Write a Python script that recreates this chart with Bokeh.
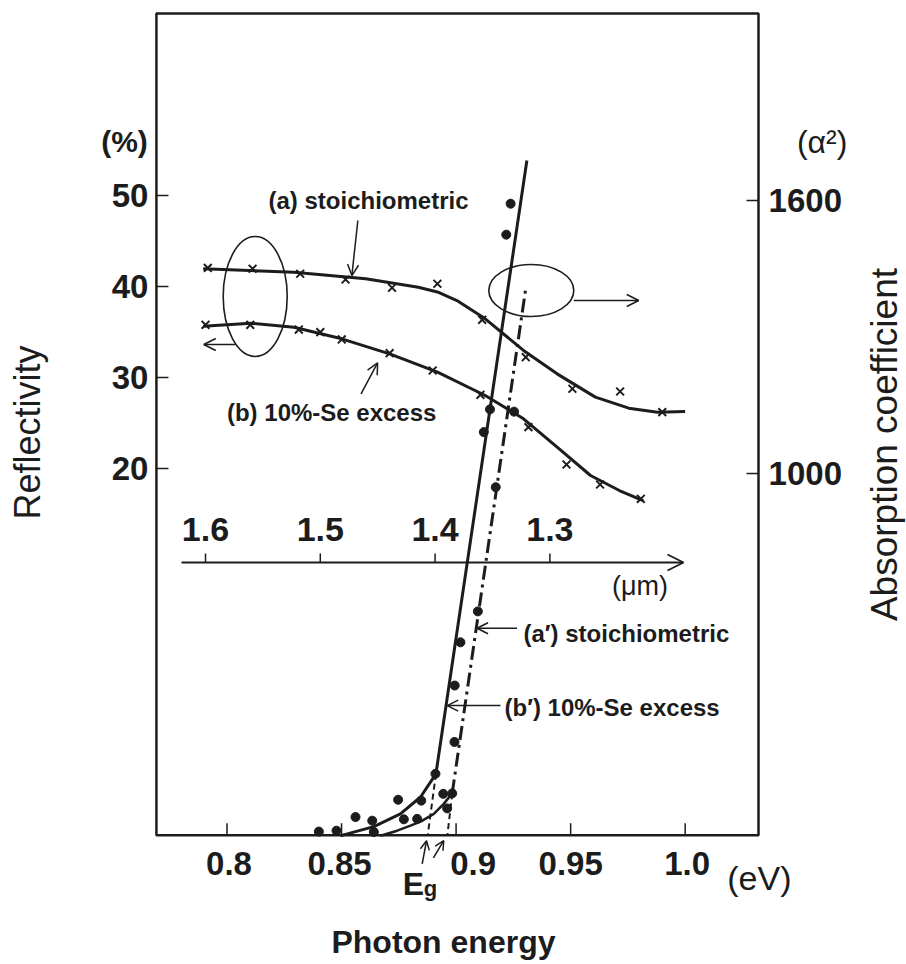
import numpy as np
from bokeh.plotting import figure
from bokeh.models import Range1d, Arrow, OpenHead
from bokeh.embed import file_html
from bokeh.resources import INLINE
from bokeh.core.properties import value

# ---------------- data ----------------
# Reflectivity (%) vs wavelength (um)
wl_a = [1.598, 1.559, 1.5175, 1.478, 1.4375, 1.398, 1.359, 1.321, 1.2804, 1.2388, 1.2021]
refl_a = [42.05, 41.95, 41.4, 40.77, 39.86, 40.3, 36.34, 32.23, 28.76, 28.46, 26.19]
wl_a_fit = [1.602, 1.523, 1.4605, 1.4146, 1.398, 1.381, 1.3563, 1.323, 1.2937, 1.2604, 1.2313, 1.2063, 1.1822]
refl_a_fit = [41.95, 41.57, 40.85, 39.92, 39.4, 38.46, 36.45, 32.97, 30.4, 27.84, 26.63, 26.19, 26.26]

wl_b = [1.6, 1.561, 1.5187, 1.5, 1.4813, 1.4396, 1.4021, 1.3605, 1.3187, 1.2855, 1.2563, 1.2208]
refl_b = [35.79, 35.79, 35.27, 34.98, 34.18, 32.67, 30.77, 28.1, 24.54, 20.44, 18.24, 16.67]
wl_b_fit = [1.602, 1.5605, 1.523, 1.4813, 1.4396, 1.3979, 1.3563, 1.323, 1.2937, 1.2646, 1.2395, 1.2188]
refl_b_fit = [35.64, 35.97, 35.53, 34.25, 32.6, 30.58, 28.02, 25.46, 22.34, 19.23, 17.58, 16.48]

# Absorption coefficient (alpha^2) vs photon energy (eV)
e_a_pts = [0.9253, 0.9173, 0.9095, 0.8993, 0.8983, 0.8961, 0.8944, 0.8830, 0.8772, 0.8641]
alpha_a_pts = [1136, 970, 697, 410, 297, 264, 296, 241, 240, 212]
e_b_pts = [0.9238, 0.9219, 0.9148, 0.9121, 0.9019, 0.8994, 0.8910, 0.8848, 0.8747, 0.8634, 0.8561, 0.8478, 0.8401]
alpha_b_pts = [1593, 1525, 1141, 1091, 629, 534, 340, 281, 283, 237, 245, 215, 213]

e_a_line = [0.8983, 0.9305]
alpha_a_line = [297, 1410]
e_a_tail = [0.8670, 0.8743, 0.8801, 0.8845, 0.8903, 0.8946, 0.8983]
alpha_a_tail = [204, 215, 226, 235, 252, 274, 297]
e_b_fit = [0.8495, 0.8525, 0.8641, 0.8757, 0.8845, 0.8912, 0.9309]
alpha_b_fit = [204, 208, 224, 252, 289, 340, 1688]
eg_b, eg_a = 0.8876, 0.8962

# ticks
energy_ticks = [0.8, 0.85, 0.9, 0.95, 1.0]
energy_tick_labels = ["0.8", "0.85", "0.9", "0.95", "1.0"]
refl_ticks = [20, 30, 40, 50]
refl_tick_labels = ["20", "30", "40", "50"]
alpha_ticks = [1000, 1600]
alpha_tick_labels = ["1000", "1600"]
wl_ticks = [1.6, 1.5, 1.4, 1.3]
wl_tick_labels = ["1.6", "1.5", "1.4", "1.3"]

# ---------------- figure ----------------
FONT = value("Liberation Sans")
INK = "#1c1c1c"

# plot box (data limits of the framed area)
E0, E1 = 0.7692, 1.0320      # photon energy
R0, R1 = -20.3, 70.0         # reflectivity
A0, A1 = 204.4, 2011.0       # alpha^2

p = figure(width=906, height=964, output_backend="svg", toolbar_location=None,
           x_axis_location=None, y_axis_location=None, min_border=0,
           x_range=Range1d(0.70114, 1.09660), y_range=Range1d(-34.51, 71.43))
p.extra_x_ranges = {"wl": Range1d(1.77857, 0.98937)}
p.extra_y_ranges = {"alpha": Range1d(-79.1, 2039.6)}
p.outline_line_color = None
p.background_fill_color = "white"
p.border_fill_color = "white"
p.grid.visible = False

TE = 12 / 2291.0    # tick length in eV
TR = 12 / 9.1       # tick length in %

# frame
p.quad(left=[E0], right=[E1], bottom=[R0], top=[R1], fill_color=None,
       line_color=INK, line_width=2.5)

# left axis (reflectivity)
p.segment(x0=[E0] * len(refl_ticks), y0=refl_ticks, x1=[E0 + TE] * len(refl_ticks), y1=refl_ticks,
          line_color=INK, line_width=1.5)
p.text(x=[E0 - 0.0035] * len(refl_ticks), y=refl_ticks, text=refl_tick_labels,
       text_align="right", text_baseline="middle", text_font=FONT, text_font_style="bold",
       text_font_size="33px", text_color=INK)
p.text(x=[0.75526], y=[55.93], text=["(%)"], text_align="center", text_baseline="middle",
       text_font=FONT, text_font_style="bold", text_font_size="30px", text_color=INK)
p.text(x=[0.71293], y=[23.96], text=["Reflectivity"], angle=np.pi / 2, text_align="center",
       text_baseline="middle", text_font=FONT, text_font_size="36px", text_color=INK)

# right axis (alpha^2)
p.segment(x0=[E1] * len(alpha_ticks), y0=alpha_ticks, x1=[E1 - TE] * len(alpha_ticks), y1=alpha_ticks,
          y_range_name="alpha", line_color=INK, line_width=1.5)
p.text(x=[E1 + 0.0044] * len(alpha_ticks), y=alpha_ticks, text=alpha_tick_labels, y_range_name="alpha",
       text_align="left", text_baseline="middle", text_font=FONT, text_font_style="bold",
       text_font_size="33px", text_color=INK)
p.text(x=[1.0598], y=[55.93], text=["(α²)"], text_align="center", text_baseline="middle",
       text_font=FONT, text_font_size="32px", text_color=INK)
p.text(x=[1.0870], y=[1063.7], text=["Absorption coefficient"], y_range_name="alpha",
       angle=np.pi / 2, text_align="center", text_baseline="middle", text_font=FONT,
       text_font_size="37px", text_color=INK)

# bottom axis (photon energy)
p.segment(x0=energy_ticks, y0=[R0] * len(energy_ticks), x1=energy_ticks, y1=[R0 + TR] * len(energy_ticks),
          line_color=INK, line_width=1.5)
p.text(x=energy_ticks, y=[-23.41] * len(energy_ticks), text=energy_tick_labels,
       x_offset=[2, -2, 17, 0, 2], text_align="center", text_baseline="middle", text_font=FONT,
       text_font_style="bold", text_font_size="33px", text_color=INK)
p.text(x=[1.0324], y=[-24.95], text=["(eV)"], text_align="center", text_baseline="middle",
       text_font=FONT, text_font_size="34px", text_color=INK)
p.text(x=[0.8945], y=[-32.09], text=["Photon energy"], text_align="center", text_baseline="middle",
       text_font=FONT, text_font_style="bold", text_font_size="32px", text_color=INK)

# ---------------- reflectivity curves (wavelength scale) ----------------
p.line(wl_a_fit, refl_a_fit, x_range_name="wl", line_color=INK, line_width=3)
p.line(wl_b_fit, refl_b_fit, x_range_name="wl", line_color=INK, line_width=3)
p.scatter(wl_a, refl_a, x_range_name="wl", marker="x", size=11, line_color=INK, line_width=2)
p.scatter(wl_b, refl_b, x_range_name="wl", marker="x", size=11, line_color=INK, line_width=2)

# inner wavelength axis
WL_Y = 9.67
p.add_layout(Arrow(x_start=1.6209, y_start=WL_Y, x_end=1.1836, y_end=WL_Y, x_range_name="wl",
                   line_color=INK, line_width=1.8,
                   end=OpenHead(size=16, line_width=1.8, line_color=INK)))
p.segment(x0=wl_ticks, y0=[WL_Y] * len(wl_ticks), x1=wl_ticks, y1=[WL_Y + 1.0] * len(wl_ticks),
          x_range_name="wl", line_color=INK, line_width=1.5)
p.text(x=wl_ticks, y=[13.30] * len(wl_ticks), text=wl_tick_labels, x_range_name="wl",
       text_align="center", text_baseline="middle", text_font=FONT,
       text_font_style="bold", text_font_size="34px", text_color=INK)
p.text(x=[1.2215], y=[7.14], text=["(μm)"], x_range_name="wl", text_align="center",
       text_baseline="middle", text_font=FONT, text_font_size="27px", text_color=INK)

# ellipses + arrows pointing to the axes
p.ellipse(x=[1.5567], y=[38.9], width=64, height=120, width_units="screen", height_units="screen",
          x_range_name="wl", fill_color=None, line_color=INK, line_width=1.6)
p.ellipse(x=[1.3162], y=[39.56], width=85, height=52, width_units="screen", height_units="screen",
          x_range_name="wl", fill_color=None, line_color=INK, line_width=1.6)
p.add_layout(Arrow(x_start=1.5739, y_start=33.63, x_end=1.6015, y_end=33.63, x_range_name="wl",
                   line_color=INK, line_width=1.5, end=OpenHead(size=12, line_width=1.5, line_color=INK)))
p.add_layout(Arrow(x_start=1.2792, y_start=38.46, x_end=1.2226, y_end=38.46, x_range_name="wl",
                   line_color=INK, line_width=1.5, end=OpenHead(size=12, line_width=1.5, line_color=INK)))

# curve labels
p.add_layout(Arrow(x_start=1.4673, y_start=47.25, x_end=1.4725, y_end=41.2, x_range_name="wl",
                   line_color=INK, line_width=1.5, end=OpenHead(size=11, line_width=1.5, line_color=INK)))
p.add_layout(Arrow(x_start=1.4645, y_start=28.21, x_end=1.4501, y_end=31.6, x_range_name="wl",
                   line_color=INK, line_width=1.5, end=OpenHead(size=11, line_width=1.5, line_color=INK)))
p.text(x=[1.5451], y=[49.45], text=["(a) stoichiometric"], x_range_name="wl",
       text_baseline="middle", text_font=FONT, text_font_style="bold",
       text_font_size="24px", text_color=INK)
p.text(x=[1.5813], y=[26.19], text=["(b) 10%-Se excess"], x_range_name="wl",
       text_baseline="middle", text_font=FONT, text_font_style="bold",
       text_font_size="24px", text_color=INK)

# ---------------- absorption (energy scale, alpha^2) ----------------
p.line(e_b_fit, alpha_b_fit, y_range_name="alpha", line_color=INK, line_width=3)
p.line(e_a_line, alpha_a_line, y_range_name="alpha", line_color=INK, line_width=3, line_dash="14 5 3 5")
p.line(e_a_tail, alpha_a_tail, y_range_name="alpha", line_color=INK, line_width=2.5)
p.segment(x0=[e_b_fit[-2], e_a_line[0]], y0=[alpha_b_fit[-2], alpha_a_line[0]],
          x1=[eg_b, eg_a], y1=[A0, A0], y_range_name="alpha",
          line_color=INK, line_width=2, line_dash="6 4")
p.scatter(e_a_pts, alpha_a_pts, y_range_name="alpha", marker="circle", size=9,
          fill_color=INK, line_color=INK)
p.scatter(e_b_pts, alpha_b_pts, y_range_name="alpha", marker="circle", size=9,
          fill_color=INK, line_color=INK)

p.add_layout(Arrow(x_start=0.92659, y_start=660, x_end=0.90913, y_end=660, y_range_name="alpha",
                   line_color=INK, line_width=1.5, end=OpenHead(size=11, line_width=1.5, line_color=INK)))
p.add_layout(Arrow(x_start=0.91938, y_start=490, x_end=0.89612, y_end=490, y_range_name="alpha",
                   line_color=INK, line_width=1.5, end=OpenHead(size=11, line_width=1.5, line_color=INK)))
p.text(x=[0.92942], y=[648.4], text=["(a′) stoichiometric"], y_range_name="alpha",
       text_baseline="middle", text_font=FONT, text_font_style="bold",
       text_font_size="24px", text_color=INK)
p.text(x=[0.92113], y=[486.4], text=["(b′) 10%-Se excess"], y_range_name="alpha",
       text_baseline="middle", text_font=FONT, text_font_style="bold",
       text_font_size="24px", text_color=INK)

# band-gap markers below the axis
p.add_layout(Arrow(x_start=0.8852, y_start=142, x_end=0.8871, y_end=193, y_range_name="alpha",
                   line_color=INK, line_width=1.5, end=OpenHead(size=9, line_width=1.5, line_color=INK)))
p.add_layout(Arrow(x_start=0.8901, y_start=155, x_end=0.8946, y_end=193, y_range_name="alpha",
                   line_color=INK, line_width=1.5, end=OpenHead(size=9, line_width=1.5, line_color=INK)))
p.text(x=[0.8814], y=[-25.66], text=["E"], text_align="center", text_baseline="middle",
       text_font=FONT, text_font_style="bold", text_font_size="32px", text_color=INK)
p.text(x=[0.8888], y=[-26.15], text=["g"], text_align="center", text_baseline="middle",
       text_font=FONT, text_font_style="bold", text_font_size="22px", text_color=INK)

open("out.html", "w").write(file_html(p, INLINE))
